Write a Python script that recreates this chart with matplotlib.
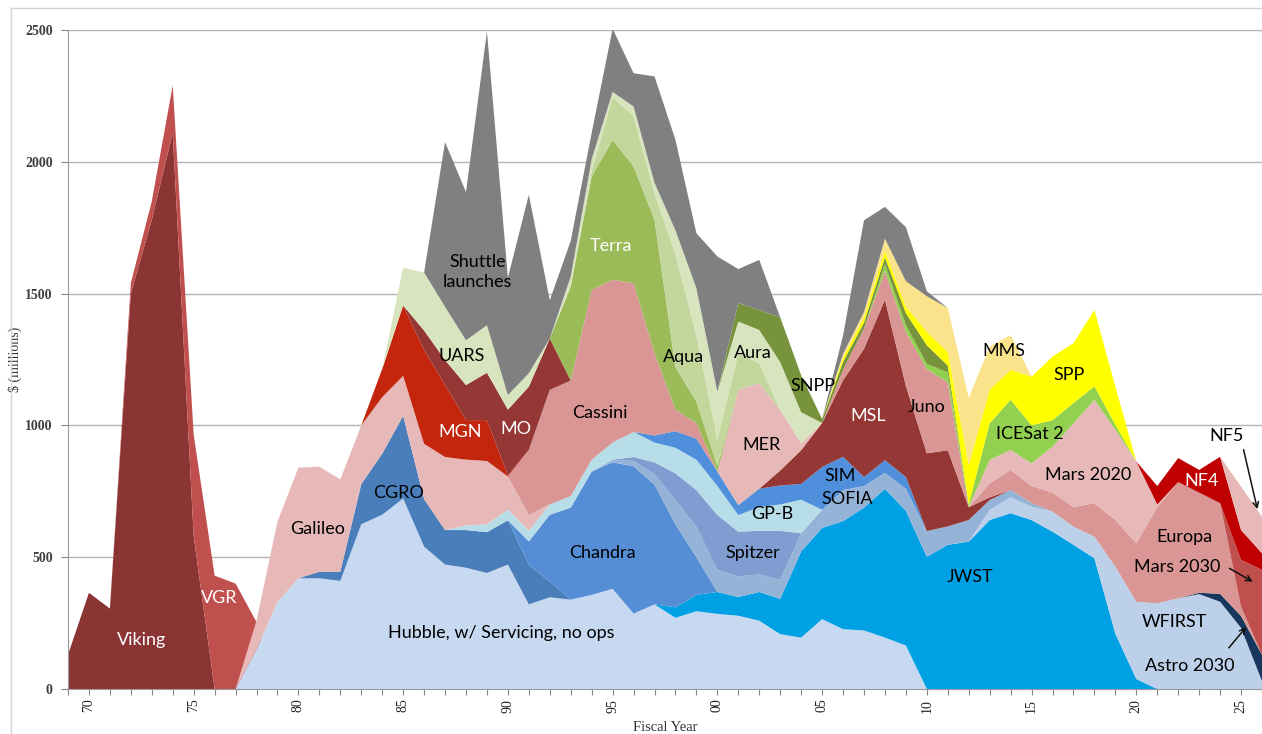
import matplotlib
matplotlib.use('Agg')
import matplotlib.pyplot as plt
from matplotlib.lines import Line2D
import numpy as np

# ---------------- data ($ millions per fiscal year) ----------------
years = np.arange(1977, 2027)
early_years = np.arange(1969, 1980)

viking = [130, 365, 305, 1500, 1780, 2110, 580, 0, 0, 0, 0]
vgr = [0, 0, 0, 40, 70, 180, 385, 430, 400, 254, 0]

# (start year, values)
hubble = (1977, [0, 150, 330, 420, 420, 410, 625, 661, 723, 540, 472, 460, 440, 472, 321, 348, 339,
                 357, 380, 286, 321, 270, 295, 285, 278, 259, 208, 195, 265, 227, 222, 195, 165, 0])
jwst = (1997, [0, 40, 62, 83, 71, 109, 134, 327, 346, 410, 466, 564, 511, 502, 547, 559, 641, 667,
               641, 597, 547, 496, 210, 38, 0])
wfirst = (2012, [0, 38, 60, 51, 76, 69, 82, 254, 293, 325, 344, 360, 331, 232, 30])
astro2030 = (2022, [0, 5, 30, 45, 100])
cgro = (1980, [0, 25, 35, 152, 232, 313, 180, 131, 143, 155, 168, 150, 60, 0])
chandra = (1990, [0, 89, 253, 349, 468, 480, 559, 454, 315, 143, 0])
sofia = (1994, [0, 10, 20, 40, 92, 115, 84, 78, 67, 72, 69, 69, 118, 82, 61, 84, 97, 70, 82, 38, 28, 13, 0])
spitzer = (1995, [0, 15, 45, 101, 140, 208, 170, 165, 186, 0])
gpb = (1987, [0, 17, 30, 40, 40, 39, 44, 45, 65, 95, 75, 97, 115, 110, 63, 90, 100, 127, 0])
sim = (1996, [0, 27, 63, 80, 55, 38, 70, 72, 60, 162, 126, 34, 48, 44, 0])
galileo = (1977, [0, 110, 305, 420, 398, 350, 223, 214, 152, 210, 277, 250, 240, 126, 60, 0])
cassini = (1990, [0, 247, 435, 438, 644, 617, 565, 312, 81, 58, 0])
msl = (2002, [0, 57, 128, 167, 290, 487, 609, 346, 295, 289, 49, 10, 0])
mer = (2000, [0, 437, 400, 230, 26, 0])
juno = (2005, [0, 40, 77, 109, 205, 320, 257, 0])
europa = (2012, [0, 53, 76, 65, 72, 74, 127, 177, 222, 365, 441, 380, 344, 35, 0])
mars2030 = (2024, [0, 178, 322])
mars2020 = (2012, [0, 89, 76, 86, 175, 318, 392, 342, 310, 10, 0])
nf4 = (2020, [0, 70, 91, 86, 176, 113, 63])
nf5 = (2024, [0, 165, 139])
mgn = (1983, [0, 107, 267, 356, 273, 150, 155, 5, 0])
mo = (1985, [0, 74, 95, 133, 180, 249, 240, 195, 0])
icesat2 = (2007, [0, 25, 26, 19, 38, 10, 139, 190, 144, 100, 77, 51, 20, 0])
uars = (1984, [0, 143, 220, 202, 170, 180, 55, 51, 0])
terra = (1992, [0, 357, 430, 531, 442, 506, 161, 82, 20, 0])
aqua = (1993, [0, 20, 162, 190, 100, 430, 250, 100, 139, 76, 0])
aura = (1992, [0, 38, 46, 20, 38, 40, 90, 180, 183, 120, 126, 181, 118, 0])
snpp = (2000, [0, 70, 76, 170, 140, 15, 30, 22, 26, 45, 71, 26, 0])
spp = (2005, [0, 15, 20, 26, 25, 51, 51, 150, 127, 114, 185, 241, 227, 290, 144, 0])
mms = (2005, [0, 15, 20, 45, 96, 135, 167, 254, 164, 132, 0])
shuttle = (1986, [0, 625, 562, 1115, 445, 677, 145, 135, 100, 240, 126, 404, 343, 209, 513, 129,
                  190, 0, 0, 0, 70, 348, 121, 205, 19, 0])

tick_years = [1970, 1975, 1980, 1985, 1990, 1995, 2000, 2005, 2010, 2015, 2020, 2025]
tick_labels = ['70', '75', '80', '85', '90', '95', '00', '05', '10', '15', '20', '25']
y_ticks = [0, 500, 1000, 1500, 2000, 2500]


def full(series):
    start, vals = series
    arr = np.zeros(len(years))
    i = start - years[0]
    arr[i:i + len(vals)] = vals
    return arr


layers = [
    (hubble, '#c6d9f1'), (jwst, '#00a1e4'), (wfirst, '#bdd0ea'), (astro2030, '#17365d'),
    (cgro, '#4a7ebb'), (chandra, '#558ed5'), (sofia, '#95b3d7'), (spitzer, '#7f9dd0'),
    (gpb, '#b7dee8'), (sim, '#4f8fdc'), (galileo, '#e6b9b8'), (cassini, '#d99694'),
    (msl, '#953735'), (mer, '#e6b9b8'), (juno, '#d99694'), (europa, '#d99694'),
    (mars2030, '#c0504d'), (mars2020, '#e6b9b8'), (nf4, '#c00000'), (nf5, '#e6b9b8'),
    (mgn, '#c3260c'), (mo, '#953735'), (icesat2, '#92d050'), (uars, '#d7e4bd'),
    (terra, '#9bbb59'), (aqua, '#c3d69b'), (aura, '#d7e4bd'), (snpp, '#77933c'),
    (spp, '#ffff00'), (mms, '#fae38a'), (shuttle, '#808080'),
]

fig = plt.figure(figsize=(12.62, 7.34), dpi=100)
ax = fig.add_axes([68 / 1262, 45 / 734, 1194 / 1262, 659 / 734])

ax.yaxis.grid(True, color='#b3b3b3', lw=1)
ax.set_axisbelow(True)

ax.stackplot(early_years, viking, vgr, colors=['#8b3434', '#c0504d'], lw=0)
ax.stackplot(years, *[full(s) for s, c in layers], colors=[c for s, c in layers], lw=0)

ax.set_xlim(1969, 2026)
ax.set_ylim(0, 2500)

ax.set_xticks(np.arange(1969, 2027))
ax.set_xticklabels([tick_labels[tick_years.index(y)] if y in tick_years else ''
                    for y in range(1969, 2027)], rotation=90,
                   family='Liberation Serif', fontsize=10, color='#222222')
ax.set_yticks(y_ticks)
ax.set_yticklabels([str(v) for v in y_ticks], family='Liberation Serif',
                   fontsize=10, fontweight='bold', color='#404040')
ax.tick_params(axis='x', length=4, color='#888888', pad=3)
ax.tick_params(axis='y', length=5, color='#888888', pad=6)
for s in ['top', 'right']:
    ax.spines[s].set_visible(False)
for s in ['left', 'bottom']:
    ax.spines[s].set_color('#999999')

ax.set_xlabel('Fiscal Year', family='Liberation Serif', fontsize=10.5, color='#333333', labelpad=6)
ax.set_ylabel('$ (millions)', family='Liberation Serif', fontsize=10, color='#333333', labelpad=2)

# figure frame
fig.add_artist(Line2D([11 / 1262, 11 / 1262], [0, 1 - 8 / 734], transform=fig.transFigure,
                      color='#d4d4d4', lw=1))
fig.add_artist(Line2D([11 / 1262, 1], [1 - 8 / 734, 1 - 8 / 734], transform=fig.transFigure,
                      color='#d4d4d4', lw=1))

F = 'Lato'
FS = 13
labels = [
    ('Viking', 1972.5, 186, 'white'), ('VGR', 1976.2, 345, 'white'),
    ('Galileo', 1980.9, 607, 'black'), ('CGRO', 1984.8, 744, 'black'),
    ('Hubble, w/ Servicing, no ops', 1989.7, 212, 'black'),
    ('Shuttle\nlaunches', 1988.55, 1582, 'black'), ('UARS', 1987.8, 1263, 'black'),
    ('MGN', 1987.7, 975, 'white'), ('MO', 1990.4, 986, 'white'),
    ('Terra', 1994.9, 1681, 'white'), ('Cassini', 1994.4, 1047, 'black'),
    ('Chandra', 1994.5, 516, 'black'), ('Aqua', 1998.4, 1260, 'black'),
    ('Aura', 2001.7, 1275, 'black'), ('SNPP', 2004.55, 1150, 'black'),
    ('MER', 2002.1, 926, 'black'), ('GP-B', 2002.6, 664, 'black'),
    ('Spitzer', 2001.7, 516, 'black'), ('SIM', 2005.85, 808, 'black'),
    ('SOFIA', 2006.2, 721, 'black'), ('MSL', 2007.2, 1036, 'white'),
    ('Juno', 2010.0, 1070, 'black'), ('JWST', 2012.05, 425, 'black'),
    ('MMS', 2013.7, 1282, 'black'), ('SPP', 2016.8, 1191, 'black'),
    ('ICESat 2', 2014.9, 967, 'black'), ('Mars 2020', 2017.7, 812, 'black'),
    ('NF5', 2024.3, 960, 'black'), ('NF4', 2023.1, 789, 'white'),
    ('Europa', 2022.3, 577, 'black'), ('Mars 2030', 2021.95, 463, 'black'),
    ('WFIRST', 2021.8, 254, 'black'), ('Astro 2030', 2022.55, 87, 'black'),
]
for txt, x, y, col in labels:
    ax.text(x, y, txt, ha='center', va='center', fontsize=FS, color=col, family=F,
            linespacing=1.3)

arrows = [((2025.09, 918), (2025.81, 672)), ((2024.33, 463), (2025.67, 402)),
          ((2024.33, 148), (2025.33, 243))]
for (x0, y0), (x1, y1) in arrows:
    ax.annotate('', xy=(x1, y1), xytext=(x0, y0),
                arrowprops=dict(arrowstyle='->', color='#111111', lw=1.1))

fig.savefig('out.png', dpi=100)
